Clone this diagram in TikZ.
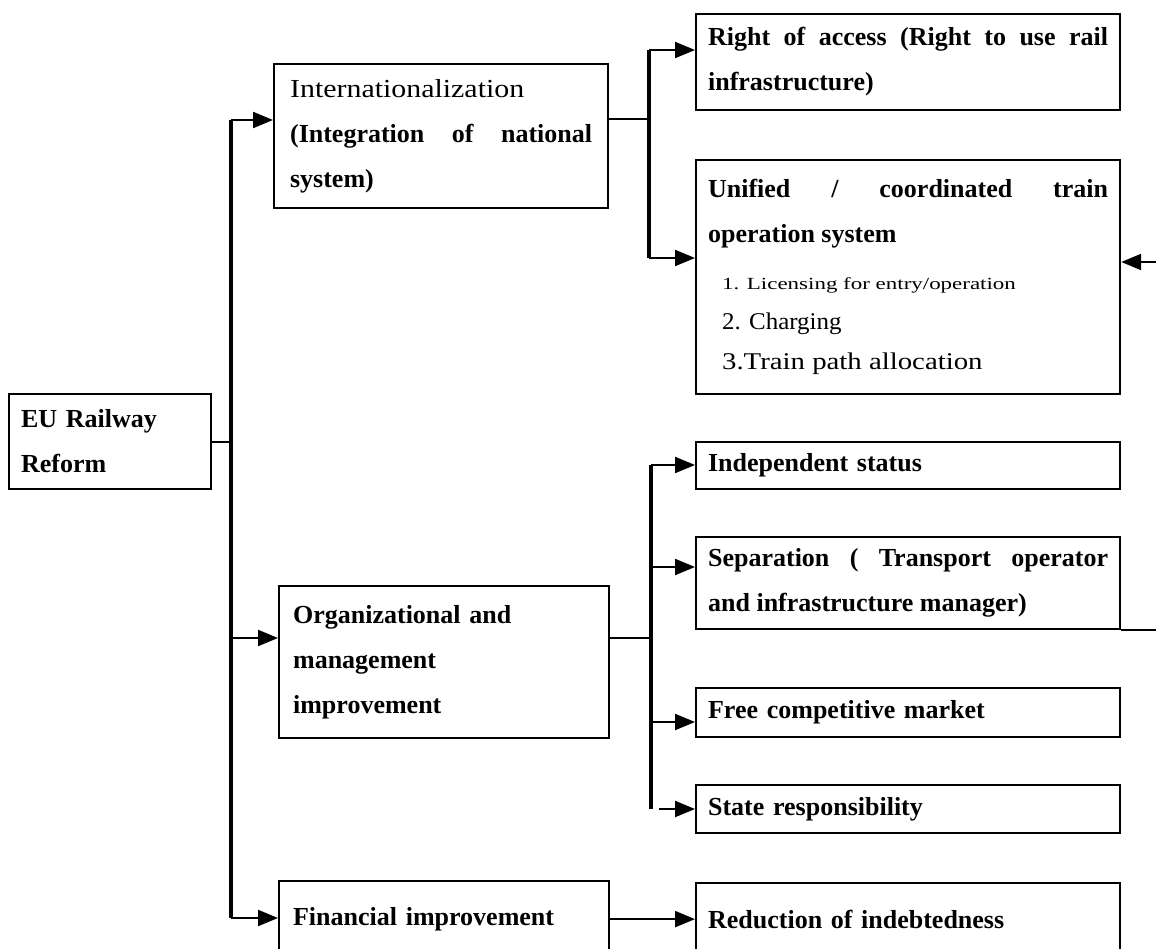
\documentclass[tikz,border=0pt]{standalone}
\usepackage{fontspec}
\setmainfont{Liberation Serif}
\newfontfamily\regwide[FakeStretch=1.15]{Liberation Serif}
\newfontfamily\itemA[FakeStretch=1.35]{Liberation Serif}
\newfontfamily\itemB[FakeStretch=1.04]{Liberation Serif}
\newfontfamily\itemC[FakeStretch=1.2]{Liberation Serif}
\usetikzlibrary{arrows.meta}
\setlength\parindent{0pt}
\tikzset{
  box/.style={draw, line width=2.2pt, anchor=north west, inner xsep=12pt, inner ysep=4pt,
    align=justify, font=\fontsize{26}{45}\selectfont\bfseries},
  conn/.style={line width=2.2pt},
  trunkline/.style={line width=3.5pt},
  arr/.style={line width=2.2pt, -{Triangle[length=20pt,width=16pt]}},
}
\begin{document}
\begin{tikzpicture}[x=1pt,y=-1pt]
\clip (0,0) rectangle (1156,949);
\fill[white] (0,0) rectangle (1156,949);

% left column
\node[box, minimum width=202pt, minimum height=95pt, text width=178pt, align=left] (eu) at (8,393)
  {EU Railway\\Reform};
\node[box, minimum width=334pt, minimum height=144pt, text width=302pt, inner xsep=16pt] (intl) at (273,63)
  {{\mdseries\regwide Internationalization}\\(Integration of national\linebreak system)};
\node[box, minimum width=330pt, minimum height=152pt, text width=302pt, inner xsep=14pt, align=left] (org) at (278,585)
  {Organizational and\\management\\improvement};
\node[box, minimum width=329pt, minimum height=76pt, text width=302pt, inner xsep=14pt, align=left] (fin) at (278,880)
  {Financial improvement};

% right column
\node[box, minimum width=424pt, minimum height=96pt, text width=400pt] (acc) at (695,13)
  {Right of access (Right to use rail\linebreak infrastructure)};
\node[box, minimum width=424pt, minimum height=234pt, text width=400pt] (uni) at (695,159)
  {{Unified / coordinated train\linebreak operation system\par}
   {\fontsize{17}{47}\selectfont\mdseries\itemA\hspace*{14pt}1. Licensing for entry/operation\par}
   {\fontsize{24}{40}\selectfont\mdseries\itemB\hspace*{14pt}2. Charging\par}
   {\fontsize{24}{40}\selectfont\mdseries\itemC\hspace*{14pt}3.Train path allocation\par}};
\node[box, minimum width=424pt, minimum height=47pt, text width=400pt, align=left] (ind) at (695,441)
  {Independent status};
\node[box, minimum width=424pt, minimum height=92pt, text width=400pt] (sep) at (695,536)
  {Separation ( Transport operator\linebreak and infrastructure manager)};
\node[box, minimum width=424pt, minimum height=49pt, text width=400pt, align=left] (free) at (695,687)
  {Free competitive market};
\node[box, minimum width=424pt, minimum height=48pt, text width=400pt, align=left] (state) at (695,784)
  {State responsibility};
\node[box, minimum width=424pt, minimum height=72pt, text width=400pt, align=left] (red) at (695,882)
  {Reduction of indebtedness};

% trunk
\coordinate (tTop) at (231,120);
\coordinate (tOrg) at (231,638);
\coordinate (tBot) at (231,918);
\draw[conn] (eu.east) -- (eu.east -| tTop);
\draw[trunkline] (tTop) -- (tBot);
\draw[arr] (tTop) -- (intl.west |- tTop);
\draw[arr] (tOrg) -- (org.west |- tOrg);
\draw[arr] (tBot) -- (fin.west |- tBot);

% internationalization branch
\coordinate (b1) at (649,119);
\coordinate (b1top) at (649,50);
\coordinate (b1bot) at (649,258);
\draw[conn] (intl.east |- b1) -- (b1);
\draw[trunkline] (b1top) -- (b1bot);
\draw[arr] (b1top) -- (acc.west |- b1top);
\draw[arr] (b1bot) -- (uni.west |- b1bot);

% organizational branch
\coordinate (b2) at (651,638);
\coordinate (b2top) at (651,465);
\coordinate (b2sep) at (651,567);
\coordinate (b2free) at (651,722);
\coordinate (b2bot) at (651,809);
\coordinate (b2st) at (659,809);
\draw[conn] (org.east |- b2) -- (b2);
\draw[trunkline] (b2top) -- (b2bot);
\draw[arr] (b2top) -- (ind.west |- b2top);
\draw[arr] (b2sep) -- (sep.west |- b2sep);
\draw[arr] (b2free) -- (free.west |- b2free);
\draw[arr] (b2st) -- (state.west |- b2st);

% financial
\draw[arr] (fin.east) -- (fin.east -| red.west);

% right-edge feedback
\coordinate (eR1) at (1156,628);
\coordinate (eR2) at (1156,262);
\draw[conn] (sep.south east) -- (sep.south east -| eR1);
\draw[arr] (eR2) -- (uni.east |- eR2);
\end{tikzpicture}
\end{document}
